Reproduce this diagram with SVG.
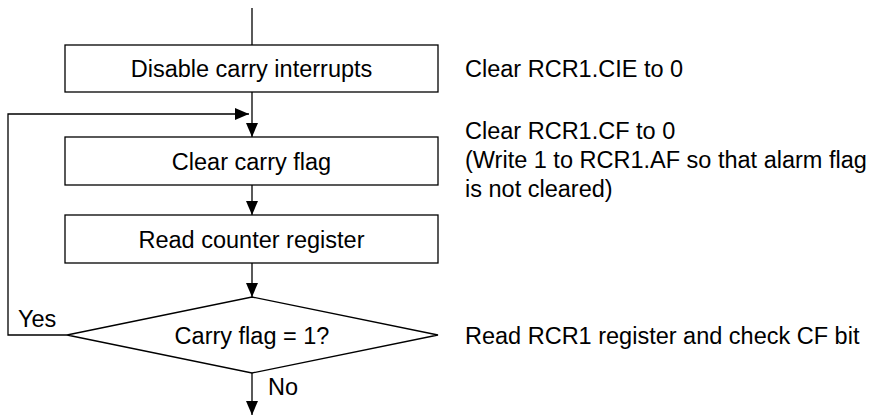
<svg xmlns="http://www.w3.org/2000/svg" width="881" height="417" viewBox="0 0 881 417">
  <defs>
    <style>
      .box { fill: #ffffff; stroke: #000000; stroke-width: 1.3; }
      .line { fill: none; stroke: #000000; stroke-width: 1.3; }
      .t { font-family: "Liberation Sans", Arial, sans-serif; font-size: 23.5px; fill: #000000; }
      .c { text-anchor: middle; }
    </style>
    <marker id="arrow" markerUnits="userSpaceOnUse" markerWidth="14" markerHeight="12" refX="14" refY="6" orient="auto">
      <path d="M0,0 L14,6 L0,12 Z" fill="#000000"/>
    </marker>
  </defs>
  <rect width="881" height="417" fill="#ffffff"/>

  <g id="connectors">
    <line class="line" x1="252" y1="8" x2="252" y2="45"/>
    <line class="line" x1="252" y1="92" x2="252" y2="137" marker-end="url(#arrow)"/>
    <polyline class="line" points="67,335 8,335 8,114 249,114" marker-end="url(#arrow)"/>
    <line class="line" x1="252" y1="185" x2="252" y2="215" marker-end="url(#arrow)"/>
    <line class="line" x1="252" y1="263" x2="252" y2="297" marker-end="url(#arrow)"/>
    <line class="line" x1="252" y1="373" x2="252" y2="415" marker-end="url(#arrow)"/>
    <text class="t" x="18" y="327">Yes</text>
    <text class="t" x="268" y="395">No</text>
  </g>

  <g id="disable">
    <rect class="box" x="65" y="45" width="373" height="47"/>
    <text class="t c" x="251.5" y="77">Disable carry interrupts</text>
  </g>
  <g id="clear">
    <rect class="box" x="65" y="137" width="373" height="48"/>
    <text class="t c" x="251.5" y="169.5">Clear carry flag</text>
  </g>
  <g id="read">
    <rect class="box" x="65" y="215" width="373" height="48"/>
    <text class="t c" x="251.5" y="247.5">Read counter register</text>
  </g>
  <g id="decision">
    <polygon class="box" points="252,297 438,335 252,373 67,335"/>
    <text class="t c" x="252" y="343.5">Carry flag = 1?</text>
  </g>

  <g id="notes">
    <text class="t" x="465" y="77">Clear RCR1.CIE to 0</text>
    <text class="t" x="465" y="139">Clear RCR1.CF to 0</text>
    <text class="t" x="465" y="168">(Write 1 to RCR1.AF so that alarm flag</text>
    <text class="t" x="465" y="197">is not cleared)</text>
    <text class="t" x="465" y="343.5">Read RCR1 register and check CF bit</text>
  </g>
</svg>
